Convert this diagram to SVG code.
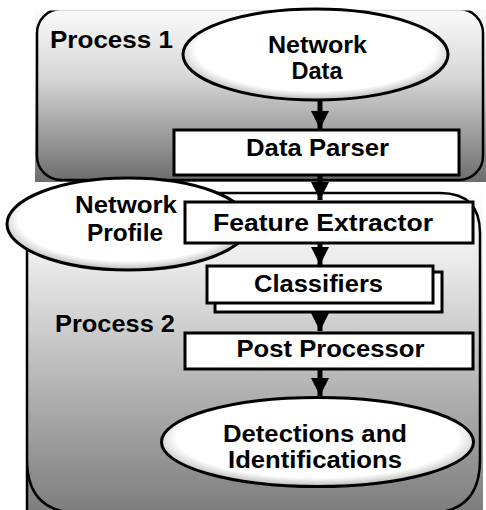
<svg xmlns="http://www.w3.org/2000/svg" width="486" height="510" viewBox="0 0 486 510">
<defs>
<linearGradient id="g1" x1="0" y1="0" x2="0" y2="1"><stop offset="0" stop-color="#fbfbfb"/><stop offset="0.4" stop-color="#d6d6d6"/><stop offset="1" stop-color="#6c6c6c"/></linearGradient>
<linearGradient id="g2" x1="0" y1="0" x2="0" y2="1"><stop offset="0" stop-color="#ffffff"/><stop offset="0.2" stop-color="#ededed"/><stop offset="1" stop-color="#7e7e7e"/></linearGradient>
<radialGradient id="eg" cx="0.5" cy="0.45" r="0.55"><stop offset="0.82" stop-color="#ffffff"/><stop offset="1" stop-color="#b8b8b8"/></radialGradient>
<marker id="ah" viewBox="0 0 10 10" refX="10" refY="5" markerWidth="4.2" markerHeight="3.6" markerUnits="strokeWidth" orient="auto"><path d="M0,0 L10,5 L0,10 z" fill="#000"/></marker>
<clipPath id="c1"><rect x="35" y="10.5" width="451" height="172"/></clipPath>
<clipPath id="c2"><rect x="0" y="0" width="486" height="510"/></clipPath>
</defs>
<style>
.t{font-family:"Liberation Sans",Arial,sans-serif;font-weight:bold;font-size:23px;fill:#000;text-anchor:middle}
.box{fill:#fff;stroke:#000;stroke-width:3}
.ol{fill:none;stroke:#000;stroke-width:2.5}
.ar{stroke:#000;stroke-width:5;fill:none;marker-end:url(#ah)}
</style>
<g id="process1">
<rect x="35" y="9" width="451" height="173" fill="url(#g1)"/>
<rect class="ol" x="37" y="9" width="446" height="171" rx="24" clip-path="url(#c1)"/>
<text class="t" x="111.5" y="48" textLength="123" lengthAdjust="spacingAndGlyphs">Process 1</text>
</g>
<g id="process2">
<rect x="28" y="192" width="455" height="318" fill="url(#g2)"/>
<path class="ol" d="M27,520 L27,243 Q27,193 77,193 L440,193 Q480,193 480,233 L480,460 Q480,513 428,513 L80,513 Q27,513 27,460" clip-path="url(#c2)"/>
<text class="t" x="115" y="332" textLength="120" lengthAdjust="spacingAndGlyphs">Process 2</text>
</g>
<g id="network-data">
<ellipse cx="315.5" cy="54.5" rx="132.5" ry="45.5" fill="url(#eg)" stroke="#000" stroke-width="3"/>
<text class="t" x="317.5" y="52.5" textLength="99" lengthAdjust="spacingAndGlyphs">Network</text>
<text class="t" x="317" y="78.5" textLength="51" lengthAdjust="spacingAndGlyphs">Data</text>
</g>
<g id="data-parser">
<rect class="box" x="174" y="130" width="285" height="45"/>
<text class="t" x="317.5" y="156" textLength="143" lengthAdjust="spacingAndGlyphs">Data Parser</text>
</g>
<g id="network-profile">
<ellipse cx="128" cy="224" rx="121" ry="46" fill="url(#eg)" stroke="#000" stroke-width="3"/>
<text class="t" x="126" y="213" textLength="102" lengthAdjust="spacingAndGlyphs">Network</text>
<text class="t" x="125" y="241" textLength="76" lengthAdjust="spacingAndGlyphs">Profile</text>
</g>
<g id="feature-extractor">
<rect class="box" x="185" y="202" width="288" height="41"/>
<text class="t" x="323" y="231" textLength="220" lengthAdjust="spacingAndGlyphs">Feature Extractor</text>
</g>
<g id="classifiers">
<rect class="box" x="215" y="272" width="227" height="40"/>
<rect class="box" x="207" y="266" width="226" height="37"/>
<text class="t" x="318.5" y="292" textLength="129" lengthAdjust="spacingAndGlyphs">Classifiers</text>
</g>
<g id="post-processor">
<rect class="box" x="185" y="333" width="288" height="36"/>
<text class="t" x="330.5" y="357" textLength="188" lengthAdjust="spacingAndGlyphs">Post Processor</text>
</g>
<g id="detections">
<ellipse cx="317.5" cy="442" rx="156" ry="44.5" fill="url(#eg)" stroke="#000" stroke-width="3"/>
<text class="t" x="315" y="442" textLength="184" lengthAdjust="spacingAndGlyphs">Detections and</text>
<text class="t" x="315" y="468" textLength="174" lengthAdjust="spacingAndGlyphs">Identifications</text>
</g>
<g id="connectors">
<line class="ar" x1="320" y1="100" x2="320" y2="129"/>
<line class="ar" x1="320" y1="175" x2="320" y2="200"/>
<line class="ar" x1="320" y1="243" x2="320" y2="265"/>
<line class="ar" x1="320" y1="312" x2="320" y2="331"/>
<line class="ar" x1="320" y1="369" x2="320" y2="396"/>
</g>
</svg>
